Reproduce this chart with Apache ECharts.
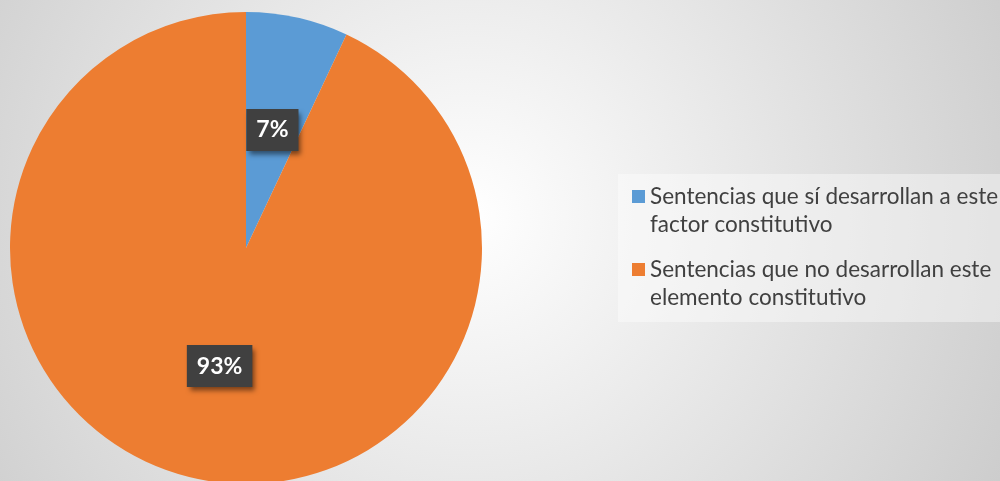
<!DOCTYPE html>
<html>
<head>
<meta charset="utf-8">
<script src="https://cdn.jsdelivr.net/npm/echarts@6/dist/echarts.min.js"></script>
<style>
html,body{margin:0;padding:0;background:#fff;}
#chart{width:1000px;height:481px;}
</style>
</head>
<body>
<div id="chart"></div>
<script>
const categories = [
  'Sentencias que sí desarrollan a este factor constitutivo',
  'Sentencias que no desarrollan este elemento constitutivo'
];
const legendLines = [
  ['Sentencias que sí desarrollan a este', 'factor constitutivo'],
  ['Sentencias que no desarrollan este', 'elemento constitutivo']
];
const values = [7, 93];
const colors = ['#5b9bd5', '#ed7d31'];

const chart = echarts.init(document.getElementById('chart'), null, {renderer: 'canvas'});
const LH = 28;
chart.setOption({
  animation: false,
  backgroundColor: {
    type: 'radial', x: 0.47, y: 0.45, r: 1.45,
    colorStops: [{offset: 0, color: '#ffffff'}, {offset: 1, color: '#c4c4c4'}]
  },
  graphic: [{
    type: 'rect', left: 618, top: 174, z: -1,
    shape: {width: 400, height: 148},
    style: {fill: 'rgba(255,255,255,0.4)'}
  }],
  legend: {
    orient: 'vertical',
    left: 632,
    top: 190 - 35.5,
    padding: 0,
    itemWidth: 13,
    itemHeight: 13,
    itemGap: -11,
    icon: 'rect',
    data: categories,
    formatter: function (name) {
      const i = categories.indexOf(name);
      return '\n' + legendLines[i].join('\n');
    },
    textStyle: {
      fontFamily: 'Lato',
      fontSize: 22.5,
      color: '#404040',
      lineHeight: LH
    }
  },
  series: [{
    type: 'pie',
    center: [246, 248],
    radius: 236,
    startAngle: 90,
    clockwise: true,
    color: colors,
    data: categories.map((c, i) => ({name: c, value: values[i]})),
    label: {
      show: true,
      position: 'inside',
      formatter: '{c}%',
      fontFamily: 'Lato',
      fontWeight: 'bold',
      fontSize: 23,
      lineHeight: 24,
      color: '#ffffff',
      backgroundColor: '#404040',
      padding: [9, 10, 9, 10],
      shadowColor: 'rgba(0,0,0,0.5)',
      shadowBlur: 5,
      shadowOffsetX: 3,
      shadowOffsetY: 4
    },
    labelLine: {show: false},
    emphasis: {disabled: true}
  }]
});
</script>
</body>
</html>
